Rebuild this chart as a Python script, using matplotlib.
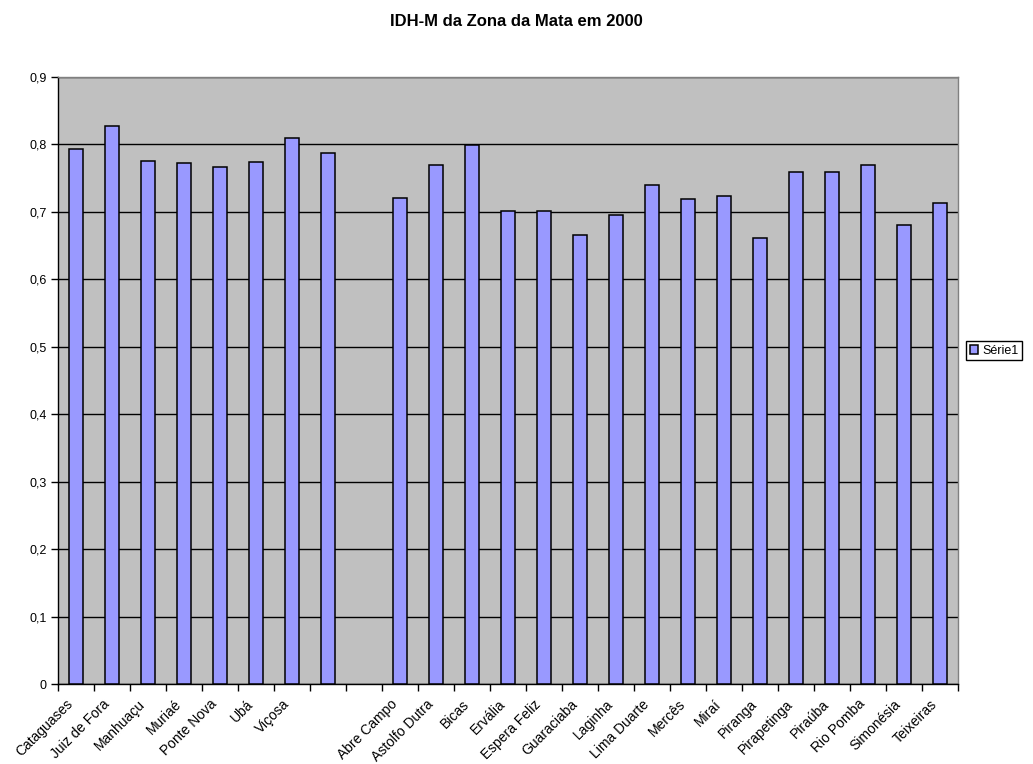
import matplotlib
matplotlib.use("Agg")
import matplotlib.pyplot as plt
import matplotlib.transforms as mtransforms
import numpy as np

plt.rcParams['font.family'] = ['Liberation Sans', 'DejaVu Sans']

# IDH-M 2000 por municipio (posicoes vazias ficam sem barra)
municipios = ['Cataguases', 'Juiz de Fora', 'Manhuaçu', 'Muriaé', 'Ponte Nova', 'Ubá', 'Viçosa', '', '',
              'Abre Campo', 'Astolfo Dutra', 'Bicas', 'Ervália', 'Espera Feliz', 'Guaraciaba', 'Laginha',
              'Lima Duarte', 'Mercês', 'Miraí', 'Piranga', 'Pirapetinga', 'Piraúba', 'Rio Pomba',
              'Simonésia', 'Teixeiras']
idh = [0.794, 0.828, 0.776, 0.772, 0.767, 0.774, 0.809, 0.788, None,
       0.720, 0.770, 0.799, 0.701, 0.701, 0.666, 0.695,
       0.740, 0.719, 0.724, 0.662, 0.759, 0.759, 0.770,
       0.680, 0.713]
serie = 'Série1'
yticks = [0, 0.1, 0.2, 0.3, 0.4, 0.5, 0.6, 0.7, 0.8, 0.9]

fig = plt.figure(figsize=(10.33, 7.64), dpi=100)
ax = fig.add_axes([0.0561, 0.1047, 0.8713, 0.7945])
ax.set_facecolor('#C0C0C0')

x = np.arange(len(municipios))
com_valor = [i for i, v in enumerate(idh) if v is not None]
ax.bar([x[i] for i in com_valor], [idh[i] for i in com_valor], width=0.4,
       color='#9999FF', edgecolor='black', linewidth=1.1, zorder=3, label=serie)

ax.set_xlim(-0.5, len(municipios) - 0.5)
ax.set_ylim(0, 0.9)
ax.set_yticks(yticks)
ax.set_yticklabels([('%.1f' % t).replace('.', ',') if t else '0' for t in yticks], fontsize=9)
ax.yaxis.grid(True, color='black', linewidth=1, zorder=1)
ax.set_axisbelow(True)

# tracos nas divisas das categorias, rotulos inclinados escritos a parte
ax.set_xticks(np.arange(len(municipios) + 1) - 0.5)
ax.set_xticklabels([])
ax.tick_params(axis='x', length=5, width=1, color='black')
ax.tick_params(axis='y', length=5, width=1, color='black', pad=3)

desloc = mtransforms.ScaledTranslation(-10 / 100, -13 / 100, fig.dpi_scale_trans)
for xi, nome in zip(x, municipios):
    ax.text(xi, 0, nome, transform=ax.get_xaxis_transform() + desloc, rotation=45,
            rotation_mode='anchor', ha='right', va='top', fontsize=10)

for lado in ['left', 'bottom']:
    ax.spines[lado].set_color('black')
    ax.spines[lado].set_linewidth(1)
for lado in ['right', 'top']:
    ax.spines[lado].set_color('#808080')
    ax.spines[lado].set_linewidth(1)

fig.suptitle('IDH-M da Zona da Mata em 2000', fontsize=12, fontweight='bold', y=0.9725, va='center')

leg = fig.legend(loc='center left', bbox_to_anchor=(0.929, 0.541), fontsize=9,
                 frameon=True, fancybox=False, edgecolor='black', framealpha=1,
                 handlelength=0.7, handleheight=0.7, handletextpad=0.3, borderpad=0.3)
leg.get_frame().set_linewidth(1)

fig.savefig('out.png', dpi=100)
